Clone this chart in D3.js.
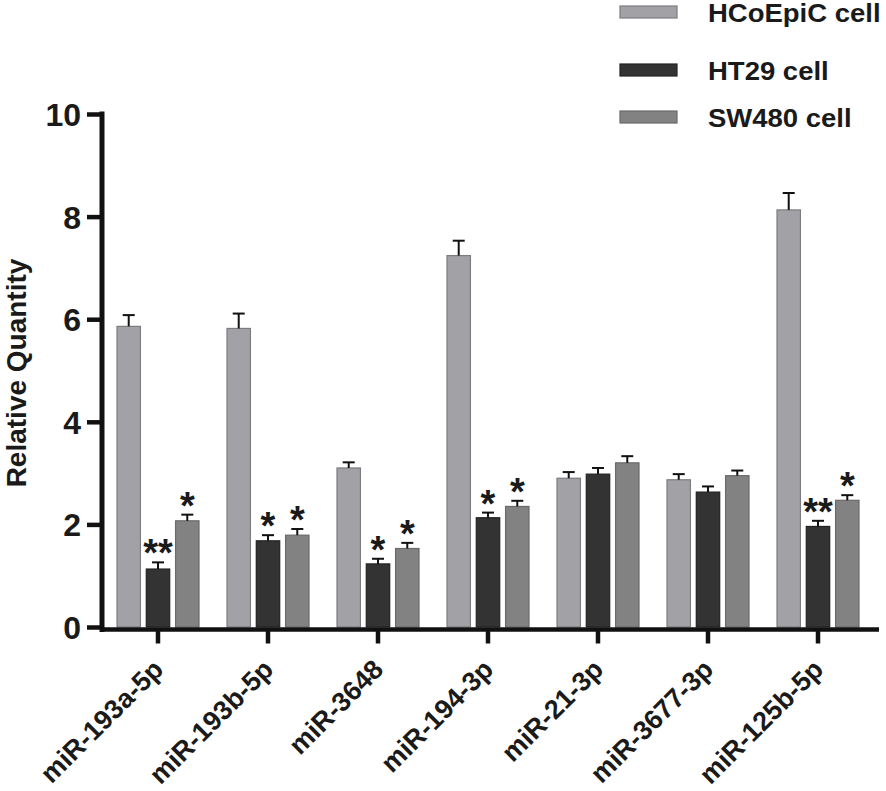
<!DOCTYPE html>
<html>
<head>
<meta charset="utf-8">
<script src="https://cdn.jsdelivr.net/npm/d3@7"></script>
<style>
  body { margin: 0; background: #fff; }
  text { font-family: "Liberation Sans", Arial, sans-serif; font-weight: bold; fill: #1a1a1a; }
</style>
</head>
<body>
<svg id="chart" width="886" height="791"></svg>
<script>
// data
const categories = ["miR-193a-5p", "miR-193b-5p", "miR-3648", "miR-194-3p", "miR-21-3p", "miR-3677-3p", "miR-125b-5p"];
const series = ["HCoEpiC cell", "HT29 cell", "SW480 cell"];
const hcoepicMean = [5.86, 5.82, 3.10, 7.24, 2.90, 2.87, 8.13];
const hcoepicErr  = [0.22, 0.29, 0.11, 0.29, 0.12, 0.11, 0.33];
const ht29Mean    = [1.13, 1.68, 1.23, 2.13, 2.98, 2.63, 1.96];
const ht29Err     = [0.13, 0.11, 0.10, 0.10, 0.12, 0.11, 0.11];
const sw480Mean   = [2.07, 1.79, 1.53, 2.35, 3.20, 2.95, 2.47];
const sw480Err    = [0.12, 0.12, 0.11, 0.11, 0.13, 0.10, 0.10];
const ht29Sig     = ["**", "*", "*", "*", "", "", "**"];
const sw480Sig    = ["*", "*", "*", "*", "", "", "*"];
const yTicks = [0, 2, 4, 6, 8, 10];

const means = [hcoepicMean, ht29Mean, sw480Mean];
const errs = [hcoepicErr, ht29Err, sw480Err];
const sigs = [null, ht29Sig, sw480Sig];
const fills = ["#a2a2a6", "#333333", "#828282"];
const strokes = ["#7c7c80", "#222222", "#6a6a6a"];

const rows = [];
categories.forEach((c, i) => {
  series.forEach((s, j) => {
    rows.push({cat: c, series: s, value: means[j][i], err: errs[j][i], sig: sigs[j] ? sigs[j][i] : "", k: j});
  });
});

const svg = d3.select("#chart");

const x = d3.scaleBand().domain(categories).range([103, 873]).padding(0);
const xs = d3.scaleBand().domain(series).range([-41, 41]).paddingInner(0.2).paddingOuter(0);
const y = d3.scaleLinear().domain([0, 10]).range([627, 114]);

// bars
const g = svg.append("g");
g.selectAll("rect.bar")
  .data(rows)
  .join("rect")
  .attr("class", "bar")
  .attr("x", d => x(d.cat) + x.bandwidth() / 2 + xs(d.series))
  .attr("y", d => y(d.value))
  .attr("width", xs.bandwidth())
  .attr("height", d => y(0) - y(d.value))
  .attr("fill", d => fills[d.k])
  .attr("stroke", d => strokes[d.k])
  .attr("stroke-width", 1.2);

// error bars (upper only)
const cx = d => x(d.cat) + x.bandwidth() / 2 + xs(d.series) + xs.bandwidth() / 2;
g.selectAll("line.err")
  .data(rows)
  .join("line")
  .attr("x1", cx).attr("x2", cx)
  .attr("y1", d => y(d.value)).attr("y2", d => y(d.value + d.err))
  .attr("stroke", "#111").attr("stroke-width", 2);
g.selectAll("line.cap")
  .data(rows)
  .join("line")
  .attr("x1", d => cx(d) - 6).attr("x2", d => cx(d) + 6)
  .attr("y1", d => y(d.value + d.err)).attr("y2", d => y(d.value + d.err))
  .attr("stroke", "#111").attr("stroke-width", 2);

// significance marks
g.selectAll("text.sig")
  .data(rows.filter(d => d.sig))
  .join("text")
  .attr("x", cx)
  .attr("y", d => y(d.value + d.err) + 4)
  .attr("text-anchor", "middle")
  .attr("font-size", 38)
  .text(d => d.sig);

// y axis
const yAxis = svg.append("g")
  .attr("transform", "translate(102,0)")
  .call(d3.axisLeft(y).tickValues(yTicks).tickSize(15).tickSizeOuter(0).tickPadding(6));
yAxis.select(".domain").attr("stroke", "#111").attr("stroke-width", 5)
  .attr("d", `M0,${y(10) - 2.5}V${y(0) + 5}`);
yAxis.selectAll(".tick line").attr("stroke", "#111").attr("stroke-width", 4.5);
yAxis.selectAll(".tick text")
  .attr("font-size", 32).attr("font-family", "Liberation Sans, Arial, sans-serif")
  .attr("font-weight", "bold").attr("fill", "#1a1a1a")
  .attr("dy", "0.36em");

// x axis
const xAxis = svg.append("g")
  .attr("transform", "translate(0,629.5)")
  .call(d3.axisBottom(x).tickSize(14).tickSizeOuter(0).tickFormat(""));
xAxis.select(".domain").attr("stroke", "#111").attr("stroke-width", 4.5)
  .attr("d", "M100,0H879");
xAxis.selectAll(".tick line").attr("stroke", "#111").attr("stroke-width", 4.5);

svg.append("g").selectAll("text.xl")
  .data(categories)
  .join("text")
  .attr("text-anchor", "end")
  .attr("font-size", 27)
  .attr("transform", d => `translate(${x(d) + x.bandwidth() / 2 + 7},671) rotate(-45)`)
  .text(d => d);

// y title
svg.append("text")
  .attr("transform", "translate(26,373) rotate(-90)")
  .attr("text-anchor", "middle")
  .attr("font-size", 28)
  .text("Relative Quantity");

// legend
const legendY = [12, 70, 117];
const leg = svg.append("g").selectAll("g")
  .data(series)
  .join("g")
  .attr("transform", (d, i) => `translate(620,${legendY[i]})`);
leg.append("rect")
  .attr("x", 0).attr("y", -6).attr("width", 57).attr("height", 12)
  .attr("fill", (d, i) => fills[i]).attr("stroke", (d, i) => strokes[i]).attr("stroke-width", 1.2);
leg.append("text")
  .attr("transform", "translate(88,9.5) scale(1.1,1)")
  .attr("font-size", 25)
  .text(d => d);
</script>
</body>
</html>
